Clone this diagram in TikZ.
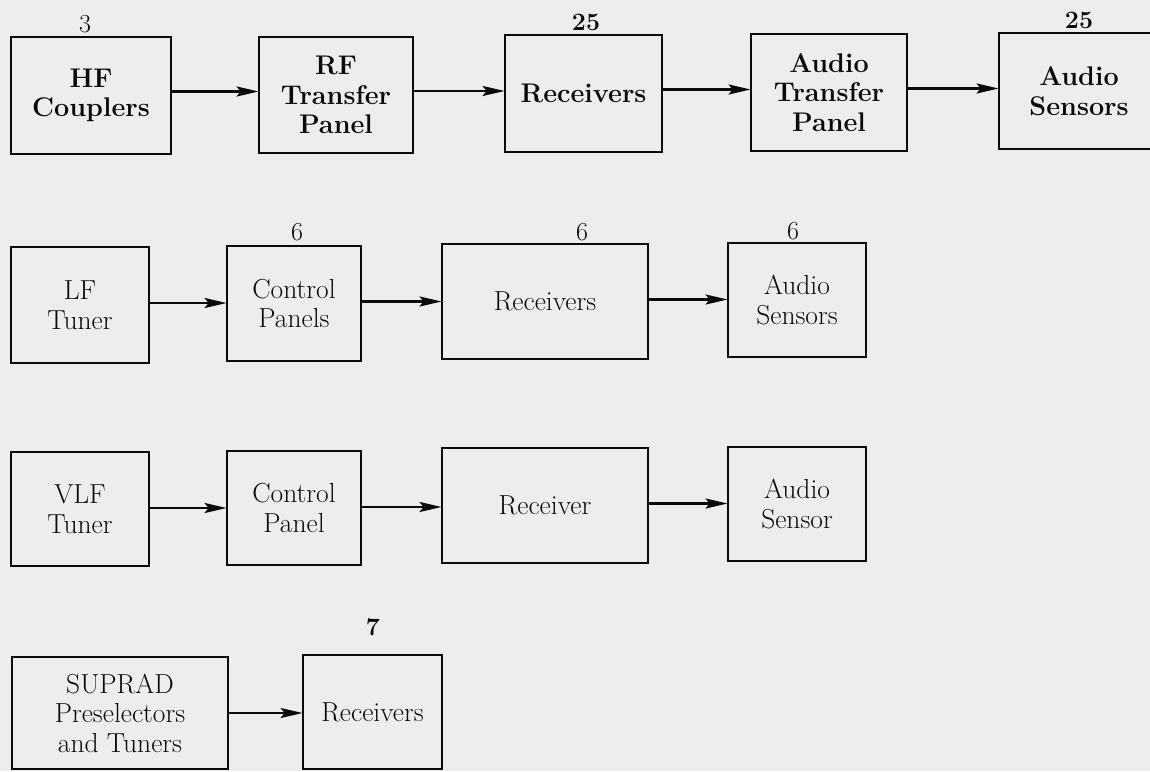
\documentclass[tikz,border=0pt]{standalone}
\usetikzlibrary{arrows.meta}
\definecolor{paper}{RGB}{237,237,235}
\definecolor{ink}{RGB}{10,10,10}
\tikzset{
  blk/.style={draw=ink, line width=2.8pt, rectangle, inner sep=0pt, align=center,
    text=ink, font=\fontsize{27.5}{29.5}\selectfont},
  blkb/.style={blk, font=\fontsize{27}{29.5}\selectfont\bfseries},
  num/.style={text=ink, inner sep=0pt, font=\fontsize{26}{29}\selectfont},
  numb/.style={num, font=\fontsize{25}{29}\selectfont\bfseries},
  arr/.style={draw=ink, line width=2.4pt, -{Stealth[length=22pt,width=10pt,inset=4pt]}, shorten >=-1pt}
}
\begin{document}
\begin{tikzpicture}[x=1pt,y=-1pt]
\fill[paper] (0,0) rectangle (1150,771);
\useasboundingbox (0,0) rectangle (1150,771);
\clip (0,0) rectangle (1150,771);
% Row 1
\node[blkb, minimum width=160pt, minimum height=117pt] (hf) at (91,95.5) {HF\\Couplers};
\node[blkb, minimum width=154pt, minimum height=116pt] (rf) at (336,95) {RF\\Transfer\\Panel};
\node[blkb, minimum width=157pt, minimum height=117pt] (rx1) at (583.5,93.5) {Receivers};
\node[blkb, minimum width=156pt, minimum height=117pt] (atp) at (829,92.5) {Audio\\Transfer\\Panel};
\node[blkb, minimum width=160pt, minimum height=116pt] (as1) at (1079,91) {Audio\\Sensors};
\node[num] (n1) at (85,24) {3};
\node[numb] (n2) at (586,22) {25};
\node[numb] (n3) at (1079,20) {25};
\draw[arr] ([yshift=4pt]hf.east) -- ([yshift=4pt]hf.east -| rf.west);
\draw[arr] ([yshift=4pt]rf.east) -- ([yshift=4pt]rf.east -| rx1.west);
\draw[arr] ([yshift=4pt]rx1.east) -- ([yshift=4pt]rx1.east -| atp.west);
\draw[arr] ([yshift=4pt]atp.east) -- ([yshift=4pt]atp.east -| as1.west);
% Row 2
\node[blk, minimum width=138pt, minimum height=116pt] (lf) at (80,305) {LF\\Tuner};
\node[blk, minimum width=134pt, minimum height=115pt] (cp2) at (294,303.5) {Control\\Panels};
\node[blk, minimum width=206pt, minimum height=115pt] (rx2) at (545,301.5) {Receivers};
\node[blk, minimum width=138pt, minimum height=114pt] (as2) at (797,300) {Audio\\Sensors};
\node[num] (n4) at (297,232) {6};
\node[num] (n5) at (582,232) {6};
\node[num] (n6) at (793,231) {6};
\draw[arr] ([yshift=2pt]lf.east) -- ([yshift=2pt]lf.east -| cp2.west);
\draw[arr] ([yshift=2pt]cp2.east) -- ([yshift=2pt]cp2.east -| rx2.west);
\draw[arr] ([yshift=2pt]rx2.east) -- ([yshift=2pt]rx2.east -| as2.west);
% Row 3
\node[blk, minimum width=138pt, minimum height=114pt] (vlf) at (80,509) {VLF\\Tuner};
\node[blk, minimum width=134pt, minimum height=114pt] (cp3) at (294,508) {Control\\Panel};
\node[blk, minimum width=206pt, minimum height=115pt] (rx3) at (545,505.5) {Receiver};
\node[blk, minimum width=138pt, minimum height=114pt] (as3) at (797,504) {Audio\\Sensor};
\draw[arr] ([yshift=1pt]vlf.east) -- ([yshift=1pt]vlf.east -| cp3.west);
\draw[arr] ([yshift=1pt]cp3.east) -- ([yshift=1pt]cp3.east -| rx3.west);
\draw[arr] ([yshift=2pt]rx3.east) -- ([yshift=2pt]rx3.east -| as3.west);
% Row 4
\node[blk, minimum width=216pt, minimum height=112pt] (sup) at (120,713) {SUPRAD\\Preselectors\\and Tuners};
\node[blk, minimum width=139pt, minimum height=114pt] (rx4) at (372.5,712) {Receivers};
\node[numb] (n7) at (373,627) {7};
\draw[arr] (sup.east) -- (sup.east -| rx4.west);
\end{tikzpicture}
\end{document}
